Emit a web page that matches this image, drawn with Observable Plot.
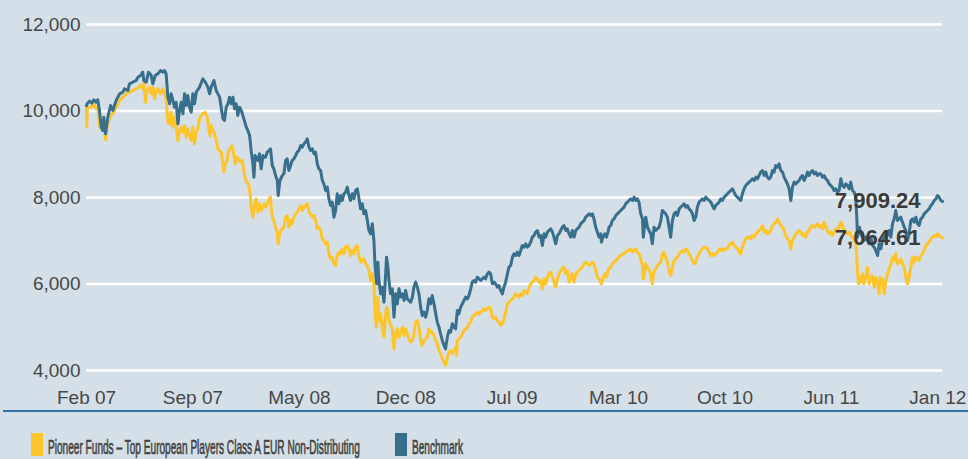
<!DOCTYPE html>
<html><head><meta charset="utf-8">
<script src="https://cdn.jsdelivr.net/npm/d3@7"></script>
<script src="https://cdn.jsdelivr.net/npm/@observablehq/plot@0.6"></script>
<style>
html,body{margin:0;padding:0;background:#d5dfe7;width:968px;height:459px;overflow:hidden;}
#chart svg{display:block}
#rule{margin-left:3px;width:965px;height:2px;background:#2f73ad;}
#legend svg{display:block}
</style></head><body>
<div id="chart"></div>
<div id="rule"></div>
<div id="legend"></div>
<script>
const fundName = "Pioneer Funds – Top European Players Class A EUR Non-Distributing";
const benchName = "Benchmark";
const xTickLabels = ["Feb 07","Sep 07","May 08","Dec 08","Jul 09","Mar 10","Oct 10","Jun 11","Jan 12"];
const xTickFirst = 2007 + 1/12, xTickLast = 2012;
const yTicks = [4000, 6000, 8000, 10000, 12000];

// [decimal year, value]
const fundSeries = [
[2007.083,10050],[2007.085,9626],[2007.088,10089],[2007.094,10089],[2007.110,10089],[2007.125,10166],[2007.139,10050],[2007.148,10089],[2007.158,9665],[2007.168,9588],[2007.177,9626],[2007.187,9511],[2007.193,9333],[2007.202,9626],[2007.210,9742],[2007.222,9896],[2007.235,9935],[2007.254,10089],[2007.274,10243],[2007.293,10320],[2007.312,10397],[2007.331,10436],[2007.351,10474],[2007.370,10513],[2007.383,10551],[2007.395,10590],[2007.408,10513],[2007.414,10628],[2007.424,10204],[2007.433,10474],[2007.447,10551],[2007.457,10397],[2007.466,10551],[2007.476,10281],[2007.485,10474],[2007.495,10513],[2007.510,10397],[2007.524,10513],[2007.534,10397],[2007.543,10281],[2007.553,9742],[2007.563,9703],[2007.572,9973],[2007.582,9626],[2007.591,9858],[2007.601,9665],[2007.611,9318],[2007.620,9549],[2007.630,9626],[2007.640,9511],[2007.649,9665],[2007.659,9395],[2007.668,9588],[2007.678,9434],[2007.688,9318],[2007.697,9626],[2007.707,9241],[2007.717,9511],[2007.726,9588],[2007.736,9819],[2007.745,9896],[2007.755,9935],[2007.769,9973],[2007.780,9858],[2007.788,9626],[2007.796,9434],[2007.803,9665],[2007.813,9549],[2007.823,9472],[2007.832,9318],[2007.842,9125],[2007.851,9087],[2007.861,9048],[2007.871,8778],[2007.876,8586],[2007.884,8778],[2007.896,8856],[2007.903,9087],[2007.913,9125],[2007.923,9202],[2007.932,9048],[2007.942,8778],[2007.952,8933],[2007.961,8894],[2007.973,8817],[2007.982,8856],[2007.992,8624],[2008.000,8432],[2008.009,8355],[2008.019,8316],[2008.029,8046],[2008.034,7777],[2008.044,7545],[2008.054,7854],[2008.063,7969],[2008.073,7661],[2008.082,7854],[2008.092,7700],[2008.111,7854],
[2008.117,7777],[2008.127,7854],[2008.137,7969],[2008.146,8008],[2008.150,7777],[2008.156,7545],[2008.165,7468],[2008.175,7314],[2008.185,7199],[2008.190,6929],[2008.200,7199],[2008.214,7276],[2008.223,7314],[2008.233,7545],[2008.242,7584],[2008.252,7314],[2008.262,7468],[2008.271,7391],[2008.281,7545],[2008.291,7622],[2008.300,7661],[2008.310,7738],[2008.320,7815],[2008.329,7700],[2008.339,7777],[2008.348,7815],[2008.358,7854],[2008.368,7661],[2008.377,7622],[2008.387,7545],[2008.397,7584],[2008.406,7468],[2008.416,7276],[2008.425,7314],[2008.435,7237],[2008.445,7044],[2008.454,7006],[2008.464,6929],[2008.474,6967],[2008.483,6698],[2008.493,6582],[2008.502,6621],[2008.512,6466],[2008.522,6428],[2008.531,6659],[2008.541,6736],[2008.551,6698],[2008.560,6813],[2008.570,6698],[2008.580,6852],[2008.589,6890],[2008.599,6813],[2008.608,6659],[2008.618,6775],[2008.628,6698],[2008.637,6852],[2008.647,6890],[2008.657,6621],[2008.666,6505],[2008.676,6543],[2008.685,6582],[2008.695,6466],[2008.705,6428],[2008.714,6312],[2008.724,6081],[2008.734,6235],[2008.743,6004],[2008.749,5387],[2008.757,5002],[2008.761,5310],[2008.766,5696],[2008.772,5156],[2008.782,5310],[2008.791,5002],[2008.801,4771],[2008.811,5310],[2008.816,5465],[2008.824,5387],[2008.830,5156],[2008.839,5041],[2008.849,4964],[2008.859,4501],[2008.868,4848],[2008.878,4964],[2008.888,4771],[2008.897,4887],[2008.907,5002],[2008.917,4810],[2008.926,4964],[2008.936,4848],[2008.945,4732],[2008.955,4655],[2008.965,4694],[2008.974,4848],[2008.984,5118],[2008.994,5156],[2009.003,5002],[2009.013,4694],[2009.022,4578],[2009.032,4694],[2009.042,4732],[2009.051,4771],[2009.061,4964],[2009.071,4887],
[2009.080,4887],[2009.090,4810],[2009.100,4694],[2009.109,4617],[2009.119,4463],[2009.128,4386],[2009.138,4270],[2009.148,4193],[2009.157,4116],[2009.163,4193],[2009.167,4308],[2009.177,4424],[2009.186,4463],[2009.196,4386],[2009.206,4463],[2009.215,4540],[2009.221,4347],[2009.225,4694],[2009.234,4732],[2009.244,4771],[2009.254,4848],[2009.263,4925],[2009.273,4964],[2009.283,5002],[2009.292,5079],[2009.302,5118],[2009.311,5233],[2009.321,5272],[2009.331,5310],[2009.340,5349],[2009.350,5310],[2009.360,5349],[2009.369,5388],[2009.379,5426],[2009.388,5388],[2009.398,5426],[2009.408,5465],[2009.417,5426],[2009.427,5233],[2009.437,5195],[2009.446,5233],[2009.456,5156],[2009.465,5118],[2009.475,5041],[2009.485,5079],[2009.494,5195],[2009.504,5349],[2009.514,5542],[2009.523,5580],[2009.533,5619],[2009.543,5657],[2009.552,5696],[2009.562,5773],[2009.571,5734],[2009.581,5696],[2009.591,5773],[2009.600,5734],[2009.610,5850],[2009.620,5811],[2009.629,5773],[2009.639,5927],[2009.648,6004],[2009.658,6043],[2009.668,6081],[2009.677,6158],[2009.687,6120],[2009.697,6043],[2009.706,6081],[2009.716,5888],[2009.726,6120],[2009.735,6004],[2009.745,6158],[2009.754,6235],[2009.764,6274],[2009.774,6158],[2009.783,6043],[2009.793,5927],[2009.803,6120],[2009.812,6235],[2009.822,6312],[2009.831,6351],[2009.841,6389],[2009.851,6235],[2009.860,6312],[2009.870,6043],[2009.880,6158],[2009.889,6235],[2009.899,6043],[2009.909,6235],[2009.918,6274],[2009.928,6312],[2009.937,6351],[2009.947,6389],[2009.957,6466],[2009.966,6505],[2009.976,6466],[2009.986,6428],[2009.995,6466],[2010.005,6505],[2010.014,6466],[2010.024,6312],[2010.034,6158],[2010.043,6120],[2010.053,6043],
[2010.057,6004],[2010.066,6120],[2010.076,6235],[2010.086,6158],[2010.095,6312],[2010.101,6351],[2010.111,6389],[2010.120,6466],[2010.130,6505],[2010.140,6543],[2010.149,6582],[2010.159,6621],[2010.168,6659],[2010.178,6698],[2010.188,6698],[2010.197,6736],[2010.207,6775],[2010.217,6775],[2010.226,6813],[2010.236,6736],[2010.246,6775],[2010.255,6813],[2010.265,6736],[2010.274,6698],[2010.284,6582],[2010.294,6428],[2010.299,6120],[2010.307,6312],[2010.313,6466],[2010.323,6389],[2010.332,6312],[2010.342,6235],[2010.351,6004],[2010.361,6312],[2010.371,6351],[2010.380,6428],[2010.390,6466],[2010.400,6505],[2010.409,6698],[2010.419,6736],[2010.428,6621],[2010.438,6505],[2010.448,6312],[2010.457,6197],[2010.467,6389],[2010.477,6543],[2010.486,6582],[2010.496,6621],[2010.506,6698],[2010.515,6736],[2010.525,6775],[2010.534,6736],[2010.544,6813],[2010.554,6775],[2010.563,6698],[2010.573,6621],[2010.583,6543],[2010.592,6466],[2010.602,6505],[2010.611,6621],[2010.621,6698],[2010.631,6775],[2010.640,6813],[2010.650,6852],[2010.660,6852],[2010.669,6813],[2010.679,6736],[2010.689,6659],[2010.698,6698],[2010.708,6659],[2010.717,6698],[2010.727,6736],[2010.737,6813],[2010.746,6775],[2010.756,6813],[2010.766,6775],[2010.775,6813],[2010.785,6813],[2010.794,6890],[2010.804,6929],[2010.814,6968],[2010.823,6890],[2010.833,6852],[2010.843,6813],[2010.852,6736],[2010.862,6698],[2010.871,6852],[2010.881,6968],[2010.891,7045],[2010.900,7083],[2010.910,7083],[2010.920,7045],[2010.929,7122],[2010.939,7083],[2010.949,7160],[2010.958,7199],[2010.968,7237],[2010.977,7276],[2010.987,7353],[2010.997,7199],[2011.006,7237],[2011.016,7160],[2011.026,7199],[2011.035,7237],
[2011.045,7353],[2011.054,7391],[2011.064,7430],[2011.074,7507],[2011.083,7430],[2011.093,7353],[2011.103,7314],[2011.112,7237],[2011.122,7122],[2011.131,7045],[2011.141,7006],[2011.151,6813],[2011.160,7006],[2011.170,7083],[2011.180,7160],[2011.189,7199],[2011.199,7237],[2011.209,7199],[2011.218,7122],[2011.228,7160],[2011.237,7083],[2011.247,7199],[2011.257,7237],[2011.266,7314],[2011.276,7353],[2011.286,7314],[2011.295,7353],[2011.305,7391],[2011.314,7314],[2011.324,7353],[2011.334,7276],[2011.343,7430],[2011.353,7314],[2011.363,7237],[2011.372,7160],[2011.382,7199],[2011.391,7122],[2011.401,7199],[2011.411,7276],[2011.420,7237],[2011.430,7314],[2011.440,7430],[2011.449,7353],[2011.459,7237],[2011.469,7199],[2011.478,7160],[2011.488,7199],[2011.497,7122],[2011.507,7083],[2011.517,7006],[2011.526,6968],[2011.532,6621],[2011.536,6312],[2011.542,6004],[2011.548,6158],[2011.555,6043],[2011.565,6235],[2011.574,6004],[2011.584,6158],[2011.594,6389],[2011.603,6004],[2011.613,6120],[2011.623,6197],[2011.632,5927],[2011.642,6158],[2011.652,6043],[2011.661,5773],[2011.667,6158],[2011.674,6004],[2011.680,6120],[2011.690,5773],[2011.700,6081],[2011.709,6235],[2011.719,6351],[2011.729,6466],[2011.738,6621],[2011.748,6543],[2011.757,6698],[2011.767,6466],[2011.777,6505],[2011.786,6582],[2011.796,6466],[2011.806,6389],[2011.815,6158],[2011.825,6004],[2011.834,6158],[2011.844,6389],[2011.854,6621],[2011.863,6505],[2011.873,6621],[2011.883,6582],[2011.892,6543],[2011.902,6659],[2011.912,6698],[2011.921,6775],[2011.931,6890],[2011.940,6929],[2011.950,6968],[2011.960,7045],[2011.969,7083],[2011.979,7122],[2011.989,7098],[2011.998,7160],[2012.008,7122],[2012.017,7083],[2012.027,7064.61]
];

const benchSeries = [
[2007.083,10120],[2007.087,10166],[2007.100,10227],[2007.114,10181],[2007.125,10258],[2007.139,10204],[2007.148,10258],[2007.158,10012],[2007.168,9626],[2007.177,9549],[2007.183,9858],[2007.193,9472],[2007.206,9858],[2007.222,10127],[2007.235,10012],[2007.254,10243],[2007.274,10397],[2007.293,10436],[2007.303,10513],[2007.322,10474],[2007.331,10628],[2007.351,10667],[2007.370,10705],[2007.380,10782],[2007.395,10821],[2007.408,10898],[2007.414,10705],[2007.428,10667],[2007.441,10898],[2007.457,10821],[2007.466,10628],[2007.480,10821],[2007.495,10859],[2007.511,10936],[2007.524,10898],[2007.534,10936],[2007.543,10859],[2007.553,10320],[2007.563,10166],[2007.572,10397],[2007.582,10243],[2007.591,10089],[2007.601,10204],[2007.611,9703],[2007.620,10012],[2007.630,10204],[2007.640,9935],[2007.649,10397],[2007.659,10127],[2007.668,10358],[2007.678,10089],[2007.688,9973],[2007.697,10397],[2007.707,10166],[2007.717,10436],[2007.736,10551],[2007.755,10744],[2007.769,10667],[2007.784,10551],[2007.794,10397],[2007.803,10551],[2007.819,10705],[2007.832,10474],[2007.842,10397],[2007.852,10320],[2007.861,10089],[2007.871,9819],[2007.880,9780],[2007.890,10089],[2007.900,10166],[2007.909,10320],[2007.919,10166],[2007.929,10320],[2007.938,10050],[2007.948,10166],[2007.957,9896],[2007.967,10089],[2007.977,10012],[2007.992,9819],[2008.006,9626],[2008.015,9549],[2008.025,9434],[2008.034,9087],[2008.044,8778],[2008.050,8470],[2008.057,8971],[2008.073,8856],[2008.082,9010],[2008.092,8663],[2008.102,8971],[2008.111,8933],
[2008.117,8933],[2008.127,9048],[2008.137,9087],[2008.146,9125],[2008.156,8740],[2008.165,8663],[2008.175,8509],[2008.185,8393],[2008.190,8046],[2008.200,8393],[2008.214,8509],[2008.223,8547],[2008.233,8856],[2008.242,8894],[2008.252,8624],[2008.262,8740],[2008.271,8856],[2008.281,8894],[2008.291,8971],[2008.300,9048],[2008.310,9087],[2008.320,9202],[2008.329,9164],[2008.339,9241],[2008.348,9279],[2008.358,9357],[2008.368,9164],[2008.377,9087],[2008.387,9125],[2008.397,9010],[2008.406,9048],[2008.416,8779],[2008.425,8663],[2008.435,8624],[2008.445,8393],[2008.454,8316],[2008.464,8162],[2008.474,8239],[2008.483,7969],[2008.493,7815],[2008.502,7892],[2008.512,7545],[2008.522,7700],[2008.531,8085],[2008.541,7854],[2008.551,8046],[2008.560,7931],[2008.570,8085],[2008.580,8124],[2008.589,8239],[2008.599,8046],[2008.608,7931],[2008.618,8085],[2008.628,7969],[2008.637,8162],[2008.647,8200],[2008.657,7969],[2008.666,7738],[2008.676,7854],[2008.685,7622],[2008.695,7700],[2008.705,7468],[2008.714,7237],[2008.724,7160],[2008.734,7391],[2008.743,7006],[2008.749,6466],[2008.753,6274],[2008.759,6004],[2008.766,6505],[2008.772,6081],[2008.782,5773],[2008.791,5927],[2008.801,5580],[2008.811,6235],[2008.816,6621],[2008.824,6389],[2008.830,6081],[2008.839,5773],[2008.849,5888],[2008.859,5233],[2008.868,5773],[2008.878,5542],[2008.888,5888],[2008.897,5696],[2008.907,5773],[2008.917,5619],[2008.926,5850],[2008.936,5657],[2008.945,5619],[2008.955,5580],[2008.965,5696],[2008.974,5927],[2008.984,6043],[2008.994,5927],[2009.003,5773],[2009.013,5465],[2009.022,5272],[2009.032,5349],[2009.042,5233],[2009.051,5388],[2009.061,5657],[2009.071,5542],
[2009.080,5734],[2009.090,5542],[2009.100,5310],[2009.109,5118],[2009.119,5002],[2009.128,4848],[2009.138,4694],[2009.148,4578],[2009.157,4501],[2009.167,4771],[2009.177,4925],[2009.186,4887],[2009.196,5079],[2009.206,5002],[2009.215,4964],[2009.221,5233],[2009.225,5388],[2009.234,5310],[2009.244,5465],[2009.254,5542],[2009.263,5619],[2009.273,5696],[2009.283,5657],[2009.292,5734],[2009.302,5888],[2009.311,6043],[2009.321,6081],[2009.331,6043],[2009.340,6158],[2009.350,6120],[2009.360,6081],[2009.369,6120],[2009.379,6158],[2009.388,6120],[2009.398,6235],[2009.408,6274],[2009.417,6235],[2009.427,6004],[2009.437,6043],[2009.446,6004],[2009.456,5927],[2009.465,5965],[2009.475,5850],[2009.485,5773],[2009.494,5927],[2009.504,6043],[2009.514,6235],[2009.523,6389],[2009.533,6428],[2009.543,6621],[2009.552,6698],[2009.562,6659],[2009.571,6736],[2009.581,6659],[2009.591,6775],[2009.600,6890],[2009.610,6852],[2009.620,6929],[2009.629,6852],[2009.639,6890],[2009.648,6968],[2009.658,7083],[2009.668,7122],[2009.677,7199],[2009.687,7237],[2009.697,7083],[2009.706,7122],[2009.716,6890],[2009.726,7160],[2009.735,7083],[2009.745,7199],[2009.754,7237],[2009.764,7276],[2009.774,7199],[2009.783,7083],[2009.793,6929],[2009.803,7122],[2009.812,7160],[2009.822,7237],[2009.831,7314],[2009.841,7353],[2009.851,7237],[2009.860,7276],[2009.870,7160],[2009.880,7083],[2009.889,7237],[2009.899,7083],[2009.909,7237],[2009.918,7276],[2009.928,7314],[2009.937,7391],[2009.947,7430],[2009.957,7468],[2009.966,7545],[2009.976,7584],[2009.986,7622],[2009.995,7584],[2010.005,7622],[2010.014,7507],[2010.024,7314],[2010.034,7199],[2010.043,7083],[2010.053,7160],
[2010.057,6968],[2010.066,7083],[2010.076,7160],[2010.086,7083],[2010.095,7199],[2010.101,7314],[2010.111,7353],[2010.120,7468],[2010.130,7507],[2010.140,7584],[2010.149,7622],[2010.159,7661],[2010.168,7700],[2010.178,7738],[2010.188,7777],[2010.197,7854],[2010.207,7892],[2010.217,7931],[2010.226,7969],[2010.236,7931],[2010.246,8008],[2010.255,7931],[2010.265,7969],[2010.274,7892],[2010.284,7622],[2010.294,7507],[2010.299,7083],[2010.307,7391],[2010.313,7545],[2010.323,7314],[2010.332,7237],[2010.342,7160],[2010.351,6929],[2010.361,7314],[2010.371,7237],[2010.380,7276],[2010.390,7314],[2010.400,7468],[2010.409,7700],[2010.419,7661],[2010.428,7622],[2010.438,7545],[2010.448,7314],[2010.457,7083],[2010.467,7468],[2010.477,7622],[2010.486,7661],[2010.496,7584],[2010.506,7738],[2010.515,7777],[2010.525,7815],[2010.534,7854],[2010.544,7777],[2010.554,7815],[2010.563,7738],[2010.573,7700],[2010.583,7622],[2010.592,7468],[2010.602,7545],[2010.611,7777],[2010.621,7892],[2010.631,7931],[2010.640,7969],[2010.650,7931],[2010.660,8008],[2010.669,7969],[2010.679,7931],[2010.689,7892],[2010.698,7815],[2010.708,7738],[2010.717,7815],[2010.727,7854],[2010.737,7892],[2010.746,7969],[2010.756,7931],[2010.766,8008],[2010.775,8046],[2010.785,8085],[2010.794,8124],[2010.804,8162],[2010.814,8200],[2010.823,8124],[2010.833,8046],[2010.843,8008],[2010.852,7969],[2010.862,7931],[2010.871,8085],[2010.881,8200],[2010.891,8278],[2010.900,8316],[2010.910,8355],[2010.920,8393],[2010.929,8432],[2010.939,8393],[2010.949,8470],[2010.958,8432],[2010.968,8509],[2010.977,8586],[2010.987,8625],[2010.997,8509],[2011.006,8586],[2011.016,8470],[2011.026,8432],[2011.035,8470],
[2011.045,8624],[2011.054,8586],[2011.064,8740],[2011.074,8702],[2011.083,8779],[2011.093,8624],[2011.103,8586],[2011.112,8470],[2011.122,8393],[2011.131,8316],[2011.141,8201],[2011.151,7931],[2011.160,8239],[2011.170,8355],[2011.180,8316],[2011.189,8355],[2011.199,8393],[2011.209,8470],[2011.218,8509],[2011.228,8393],[2011.237,8470],[2011.247,8586],[2011.257,8509],[2011.266,8586],[2011.276,8624],[2011.286,8547],[2011.295,8586],[2011.305,8509],[2011.314,8547],[2011.324,8547],[2011.334,8470],[2011.343,8509],[2011.353,8432],[2011.363,8393],[2011.372,8316],[2011.382,8278],[2011.391,8239],[2011.401,8162],[2011.411,8201],[2011.420,8124],[2011.430,8162],[2011.440,8432],[2011.449,8278],[2011.459,8239],[2011.469,8316],[2011.478,8278],[2011.488,8201],[2011.497,8355],[2011.507,8162],[2011.517,8124],[2011.526,8008],[2011.532,7545],[2011.536,7083],[2011.542,7237],[2011.548,7314],[2011.555,7160],[2011.565,7083],[2011.574,7006],[2011.584,7083],[2011.594,7006],[2011.603,6929],[2011.613,7083],[2011.623,6890],[2011.632,6852],[2011.642,6775],[2011.652,6659],[2011.661,6929],[2011.671,6813],[2011.680,7006],[2011.690,7083],[2011.700,7160],[2011.709,7122],[2011.719,7237],[2011.729,7083],[2011.738,7391],[2011.748,7507],[2011.757,7700],[2011.767,7468],[2011.777,7507],[2011.786,7545],[2011.796,7430],[2011.806,7314],[2011.815,7237],[2011.825,7006],[2011.834,7160],[2011.844,7468],[2011.854,7507],[2011.863,7430],[2011.873,7545],[2011.883,7391],[2011.892,7353],[2011.902,7507],[2011.912,7545],[2011.921,7622],[2011.931,7661],[2011.940,7700],[2011.950,7738],[2011.960,7815],[2011.969,7854],[2011.979,7931],[2011.989,7969],[2011.998,8046],[2012.008,8008],[2012.017,7931],[2012.027,7909.24]
];

const fundColor = "#fec52b";
const benchColor = "#376f8c";

const fund = fundSeries.map(([t, v]) => ({t, v, name: fundName}));
const bench = benchSeries.map(([t, v]) => ({t, v, name: benchName}));
const lastPoints = [fund[fund.length - 1], bench[bench.length - 1]];
const xTicks = d3.range(xTickLabels.length).map(i => xTickFirst + i * (xTickLast - xTickFirst) / (xTickLabels.length - 1));

const chart = Plot.plot({
  width: 968,
  height: 410,
  marginLeft: 86,
  marginRight: 26,
  marginTop: 24,
  marginBottom: 40,
  style: {background: "transparent", fontFamily: "'Liberation Sans', Arial, sans-serif", fontSize: "19px", color: "#474747"},
  x: {type: "linear", domain: d3.extent([...fund, ...bench], d => d.t)},
  y: {domain: [yTicks[0], yTicks[yTicks.length - 1]]},
  marks: [
    Plot.ruleY(yTicks, {stroke: "#ffffff", strokeWidth: 2.5}),
    Plot.axisY({ticks: yTicks, tickSize: 0, tickPadding: 6, tickFormat: d3.format(","), label: null}),
    Plot.axisX({ticks: xTicks, tickSize: 0, tickPadding: 20, tickFormat: d => xTickLabels[xTicks.indexOf(d)], label: null}),
    Plot.line(fund, {x: "t", y: "v", stroke: fundColor, strokeWidth: 3}),
    Plot.line(bench, {x: "t", y: "v", stroke: benchColor, strokeWidth: 3}),
    Plot.text(lastPoints, {x: "t", y: "v", text: d => d3.format(",.2f")(d.v), textAnchor: "end", dx: -22, fontWeight: "bold", fontSize: 22, fill: "#3b3b3b"})
  ]
});
document.getElementById("chart").appendChild(chart);

// legend: condensed text, horizontally squeezed to the reference widths
const legendItems = [
  {name: fundName, color: fundColor, x: 31, len: 312},
  {name: benchName, color: benchColor, x: 395, len: 51}
];
const lg = d3.select("#legend").append("svg").attr("width", 968).attr("height", 47);
const gi = lg.selectAll("g").data(legendItems).join("g");
gi.append("rect").attr("x", d => d.x).attr("y", 21).attr("width", 12).attr("height", 23).attr("fill", d => d.color);
gi.append("text")
  .attr("font-family", "'Liberation Sans Narrow', 'Liberation Sans', Arial, sans-serif").attr("font-size", 21)
  .attr("fill", "#444444").attr("stroke", "#444444").attr("stroke-width", 0.7)
  .text(d => d.name)
  .each(function(d) {
    const w = this.getComputedTextLength();
    d3.select(this).attr("transform", `translate(${d.x + 17},42) scale(${d.len / w},1)`);
  });
</script>
</body></html>
